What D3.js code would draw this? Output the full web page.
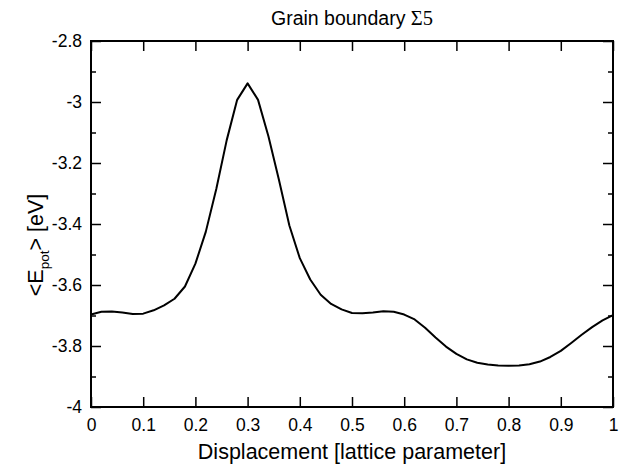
<!DOCTYPE html>
<html>
<head>
<meta charset="utf-8">
<script src="https://cdn.jsdelivr.net/npm/d3@7"></script>
<style>
  body { margin: 0; background: #fff; }
  svg { display: block; }
  text { font-family: "Liberation Sans", Arial, sans-serif; fill: #000; }
</style>
</head>
<body>
<svg id="chart" width="624" height="464"></svg>
<script>
// Data
const displacement = [0.00,0.02,0.04,0.06,0.08,0.10,0.12,0.14,0.16,0.18,
  0.20,0.22,0.24,0.26,0.28,0.30,0.32,0.34,0.36,0.38,
  0.40,0.42,0.44,0.46,0.48,0.50,0.52,0.54,0.56,0.58,
  0.60,0.62,0.64,0.66,0.68,0.70,0.72,0.74,0.76,0.78,
  0.80,0.82,0.84,0.86,0.88,0.90,0.92,0.94,0.96,0.98,1.00];
const energy = [-3.697,-3.688,-3.687,-3.690,-3.695,-3.694,-3.683,-3.667,-3.645,-3.605,
  -3.530,-3.425,-3.285,-3.125,-2.993,-2.939,-2.993,-3.113,-3.255,-3.405,
  -3.512,-3.582,-3.632,-3.662,-3.680,-3.692,-3.693,-3.690,-3.686,-3.688,
  -3.697,-3.713,-3.740,-3.772,-3.802,-3.826,-3.844,-3.855,-3.861,-3.864,
  -3.865,-3.864,-3.860,-3.851,-3.836,-3.816,-3.790,-3.763,-3.738,-3.716,-3.699];
const xTicks = [0,0.1,0.2,0.3,0.4,0.5,0.6,0.7,0.8,0.9,1];
const xTickLabels = ["0","0.1","0.2","0.3","0.4","0.5","0.6","0.7","0.8","0.9","1"];
const yMajorTicks = [-2.8,-3,-3.2,-3.4,-3.6,-3.8,-4];
const yMajorLabels = ["-2.8","-3","-3.2","-3.4","-3.6","-3.8","-4"];
const yMinorTicks = [-2.9,-3.1,-3.3,-3.5,-3.7,-3.9];
const titleText = "Grain boundary ";
const titleSymbol = "Σ5";
const xLabel = "Displacement [lattice parameter]";

const svg = d3.select("#chart");
const m = { left: 91, right: 11, top: 41, bottom: 57 };
const W = 624, H = 464;
const x = d3.scaleLinear().domain([0, 1]).range([m.left, W - m.right]);
const y = d3.scaleLinear().domain([-4, -2.8]).range([H - m.bottom, m.top]);

const g = svg.append("g");

const axBottom = g.append("g").attr("transform", `translate(0,${y(-4)})`)
  .call(d3.axisBottom(x).tickValues(xTicks).tickSize(-10).tickPadding(12)
    .tickFormat((d, i) => xTickLabels[i]));
const axTop = g.append("g").attr("transform", `translate(0,${y(-2.8)})`)
  .call(d3.axisTop(x).tickValues(xTicks).tickSize(-10).tickFormat(""));
const axLeft = g.append("g").attr("transform", `translate(${x(0)},0)`)
  .call(d3.axisLeft(y).tickValues(yMajorTicks).tickSize(-10).tickPadding(9)
    .tickFormat((d, i) => yMajorLabels[i]));
const axLeftMinor = g.append("g").attr("transform", `translate(${x(0)},0)`)
  .call(d3.axisLeft(y).tickValues(yMinorTicks).tickSize(-5).tickFormat(""));
const axRight = g.append("g").attr("transform", `translate(${x(1)},0)`)
  .call(d3.axisRight(y).tickValues(yMajorTicks).tickSize(-10).tickFormat(""));
const axRightMinor = g.append("g").attr("transform", `translate(${x(1)},0)`)
  .call(d3.axisRight(y).tickValues(yMinorTicks).tickSize(-5).tickFormat(""));

[axBottom, axTop, axLeft, axLeftMinor, axRight, axRightMinor].forEach(a => {
  a.select(".domain").remove();
  a.selectAll(".tick line").attr("stroke", "#000").attr("stroke-width", 1.5);
  a.selectAll(".tick text").style("font-family", "Liberation Sans, Arial, sans-serif")
    .style("font-size", "17.5px").attr("fill", "#000");
});

g.append("rect")
  .attr("x", x(0)).attr("y", y(-2.8))
  .attr("width", x(1) - x(0)).attr("height", y(-4) - y(-2.8))
  .attr("fill", "none").attr("stroke", "#000").attr("stroke-width", 2);

const pts = displacement.map((d, i) => [d, energy[i]]);
g.append("path")
  .datum(pts)
  .attr("fill", "none")
  .attr("stroke", "#000")
  .attr("stroke-width", 2)
  .attr("stroke-linejoin", "round")
  .attr("d", d3.line().x(d => x(d[0])).y(d => y(d[1])));

const t = svg.append("text")
  .attr("x", (x(0) + x(1)) / 2).attr("y", 25)
  .attr("text-anchor", "middle").style("font-size", "19.5px");
t.append("tspan").text(titleText);
t.append("tspan").style("font-family", "Liberation Serif, serif").style("font-size", "20.5px").text(titleSymbol);

svg.append("text")
  .attr("x", (x(0) + x(1)) / 2).attr("y", 459)
  .attr("text-anchor", "middle").style("font-size", "21.5px")
  .text(xLabel);

const yl = svg.append("text")
  .attr("transform", `translate(43,${245}) rotate(-90)`)
  .attr("text-anchor", "middle").style("font-size", "21.5px");
yl.append("tspan").text("<E");
yl.append("tspan").attr("dy", 6).style("font-size", "13.5px").text("pot");
yl.append("tspan").attr("dy", -6).text("> [eV]");
</script>
</body>
</html>
